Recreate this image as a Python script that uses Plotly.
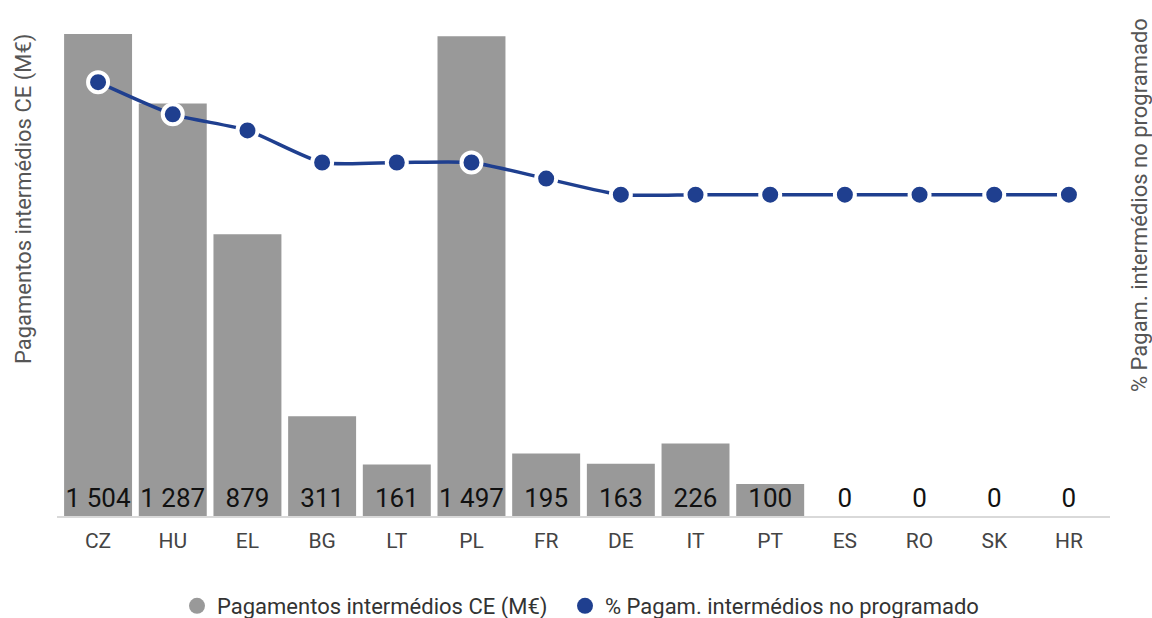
import plotly.graph_objects as go

categories = ["CZ", "HU", "EL", "BG", "LT", "PL", "FR", "DE", "IT", "PT", "ES", "RO", "SK", "HR"]
payments = [1504, 1287, 879, 311, 161, 1497, 195, 163, 226, 100, 0, 0, 0, 0]
pct_programme = [7, 5, 4, 2, 2, 2, 1, 0, 0, 0, 0, 0, 0, 0]

bar_name = "Pagamentos intermédios CE (M€)"
line_name = "% Pagam. intermédios no programado"

BAR_COLOR = "#999999"
LINE_COLOR = "#1F3F8F"
FONT = "Roboto"

labels = [f"{v:,}".replace(",", " ") for v in payments]

fig = go.Figure()

fig.add_trace(go.Bar(
    x=categories, y=payments, name=bar_name,
    marker=dict(color=BAR_COLOR, line=dict(width=0)),
    showlegend=False, hoverinfo="x+y",
))

fig.add_trace(go.Scatter(
    x=categories, y=[0] * len(categories), mode="text+markers",
    text=labels, textposition="top center",
    marker=dict(size=3, opacity=0),
    textfont=dict(family=FONT, size=26, color="#111111"),
    showlegend=False, hoverinfo="skip",
))

fig.add_trace(go.Scatter(
    x=categories, y=pct_programme, name=line_name, yaxis="y2",
    mode="lines+markers",
    line=dict(color=LINE_COLOR, width=3.5, shape="spline", smoothing=0.6),
    marker=dict(color=LINE_COLOR, size=20, line=dict(color="white", width=4)),
    showlegend=False,
))

# legend entries (circle symbols)
fig.add_trace(go.Scatter(
    x=[None], y=[None], mode="markers", name=bar_name, legend="legend",
    marker=dict(color=BAR_COLOR, size=22),
))
fig.add_trace(go.Scatter(
    x=[None], y=[None], mode="markers", name=line_name, legend="legend2",
    marker=dict(color=LINE_COLOR, size=22),
))

plot_h = 618 - 34 - 102
plot_w = 1152 - 57 - 42
legend_y = -(606 - 516) / plot_h
legend_font = dict(family=FONT, size=22, color="#333333")

fig.update_layout(
    width=1152, height=618,
    margin=dict(l=57, r=42, t=34, b=102, autoexpand=False),
    paper_bgcolor="white", plot_bgcolor="white",
    font=dict(family=FONT, color="#444444"),
    bargap=0.09,
    xaxis=dict(
        range=[-0.55, 13.55], showline=True, linecolor="#d9d9d9", linewidth=2,
        showgrid=False, zeroline=False, ticks="", automargin=False,
        ticklabelstandoff=5,
        tickfont=dict(family=FONT, size=21, color="#444444"),
    ),
    yaxis=dict(
        range=[0, 1504], showticklabels=False, showgrid=False, zeroline=False,
        automargin=False,
    ),
    yaxis2=dict(
        range=[-20, 10], overlaying="y", side="right", automargin=False,
        showticklabels=False, showgrid=False, zeroline=False,
    ),
    legend=dict(
        orientation="h", x=(177 - 57) / plot_w, xanchor="left", y=legend_y, yanchor="middle",
        font=legend_font, itemsizing="trace",
    ),
    legend2=dict(
        orientation="h", x=(565 - 57) / plot_w, xanchor="left", y=legend_y, yanchor="middle",
        font=legend_font, itemsizing="trace",
    ),
    annotations=[
        dict(text=bar_name, textangle=-90, xref="paper", yref="paper",
             x=(24 - 57) / plot_w, y=(516 - 199) / plot_h,
             xanchor="center", yanchor="middle",
             showarrow=False, font=dict(family=FONT, size=22, color="#555555")),
        dict(text=line_name, textangle=-90, xref="paper", yref="paper",
             x=(1140 - 57) / plot_w, y=(516 - 205) / plot_h,
             xanchor="center", yanchor="middle",
             showarrow=False, font=dict(family=FONT, size=22, color="#555555")),
    ],
)

fig.write_html("out.html", config={"displayModeBar": False},
               post_script="document.body.style.margin='0';")
